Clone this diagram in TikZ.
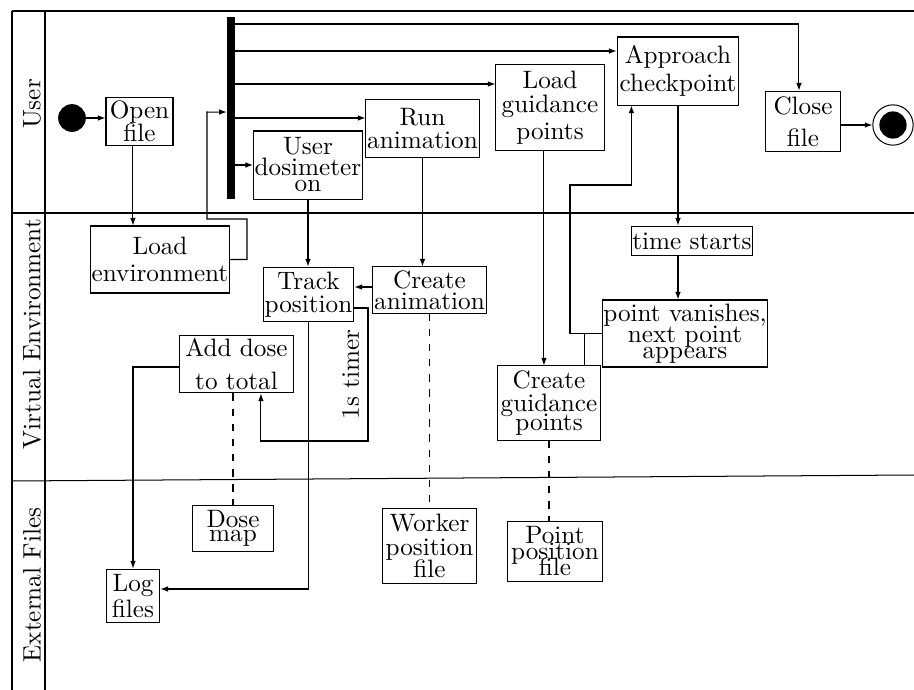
\documentclass[tikz,border=0pt]{standalone}
\usetikzlibrary{arrows.meta}

\begin{document}
\begin{tikzpicture}[
    x=0.397pt, y=-0.397pt,
    action/.style={rectangle, draw, align=center, inner xsep=0.5pt, inner ysep=1pt},
    datafile/.style={action},
    startdot/.style={circle, fill, minimum size=11pt, inner sep=0pt},
    enddot/.style={circle, draw, minimum size=16pt, inner sep=0pt,
        path picture={\fill (path picture bounding box.center) circle (5.4pt);}},
    forkbar/.style={rectangle, fill, minimum width=3pt, minimum height=72.3pt, inner sep=0pt},
    lane/.style={rotate=90},
    arrow/.style={-{Latex[length=3pt,width=2.2pt]}},
    dataflow/.style={dashed}
]
    \useasboundingbox (0,0) rectangle (914,690);

    \draw (12,11) -- (914,11);
    \draw (12,213) -- (914,213);
    \draw (12,481) -- (914,475);
    \draw (12,11) -- (12,690);
    \draw (45,11) -- (45,690);

    \node[lane] (userlane) at (32,104) {User};
    \node[lane] (virtlane) at (32,334) {Virtual Environment};
    \node[lane] (extlane) at (32,585) {External Files};

    \node[startdot] (start) at (72,118) {};
    \node[action, minimum width=26.6pt, minimum height=18.7pt] (openfile) at (139.5,121.5) {Open\\[-3pt]file};
    \node[forkbar] (fork) at (231,108) {};
    \node[action, minimum width=54pt, minimum height=26.6pt] (loadenv) at (160,259.5) {Load\\[-1.3pt]environment};
    \node[action, minimum width=42.9pt, minimum height=27pt] (userdos) at (308,165) {User\\[-3.7pt]dosimeter\\[-5.6pt]on};
    \node[action, minimum width=43.3pt, minimum height=23.4pt] (runanim) at (422.5,128.5) {Run\\[-2.5pt]animation};
    \node[action, minimum width=42.9pt, minimum height=34.5pt] (loadguid) at (550,107.5) {Load\\[-2.5pt]guidance\\[-1.3pt]points};
    \node[action, minimum width=48.4pt, minimum height=27pt] (approach) at (678,71) {Approach\\[-1pt]checkpoint};
    \node[action, minimum width=29.4pt, minimum height=24.2pt] (closefile) at (803,121.5) {Close\\[0.7pt]file};
    \node[enddot] (finish) at (893,125) {};

    \node[action, minimum width=36.1pt, minimum height=21.8pt] (track) at (308.5,294.5) {Track\\[-2.9pt]position};
    \node[action, minimum width=42.5pt, minimum height=18.3pt] (createanim) at (429.5,290) {Create\\[-3.7pt]animation};
    \node[action, minimum width=44.9pt, minimum height=23pt] (adddose) at (236.5,364) {Add dose\\[1.1pt]to total};
    \node[action, minimum width=48.4pt, minimum height=11.9pt] (timestart) at (692,241) {time starts};
    \node[action, minimum width=64.3pt, minimum height=26.6pt] (vanish) at (685,333.5) {point vanishes,\\[-3.7pt]next point\\[-5.6pt]appears};
    \node[action, minimum width=40.5pt, minimum height=29.4pt] (createguid) at (549,403) {Create\\[-2.9pt]guidance\\[-4.5pt]points};

    \node[datafile, minimum width=31.8pt, minimum height=17.9pt] (dosemap) at (233,528.5) {Dose\\[-6.4pt]map};
    \node[datafile, minimum width=37.7pt, minimum height=29.4pt] (workerfile) at (429.5,546) {Worker\\[-2.5pt]position\\[-3.3pt]file};
    \node[datafile, minimum width=38.1pt, minimum height=24.2pt] (pointfile) at (555,551.5) {Point\\[-6pt]position\\[-5.3pt]file};
    \node[datafile, minimum width=21.4pt, minimum height=21.4pt] (logfiles) at (133,596) {Log\\[-1.7pt]files};

    \draw[arrow] (start) -- (start -| openfile.west);
    \draw[arrow] ([xshift=-2.6pt]openfile.south) -- ([xshift=-2.6pt]openfile.south |- loadenv.north);
    \draw[arrow] (loadenv.east) -| (247,219) -| (207,112) -- ([yshift=-1.6pt]fork.west);

    \draw[arrow] (fork.east |- 0,24) -| ([xshift=-1.6pt]closefile.north);
    \draw[arrow] (fork.east |- 0,51) -- (approach.west |- 0,51);
    \draw[arrow] (fork.east |- 0,84) -- (loadguid.west |- 0,84);
    \draw[arrow] (fork.east |- 0,118) -- (runanim.west |- 0,118);
    \draw[arrow] (fork.east |- userdos) -- (userdos.west);
    \draw[arrow] (closefile.east |- finish) -- (finish);

    \draw[arrow] (userdos.south) -- (userdos.south |- track.north);
    \draw[arrow] (runanim.south) -- (runanim.south |- createanim.north);
    \draw[arrow] (createanim.west |- 0,287) -- (track.east |- 0,287);
    \draw[arrow] (track.east |- 0,308) -| (368,441) node[pos=0.75, rotate=90, above] (timer) {1s timer}
        -| ([xshift=9.7pt]adddose.south);
    \draw[arrow] (adddose.west |- 0,367) -| (logfiles.north);
    \draw[arrow] (track.south) |- (logfiles.east |- 0,589);

    \draw[arrow] ([xshift=-2.4pt]loadguid.south) -- ([xshift=-2.4pt]loadguid.south |- createguid.north);
    \draw[arrow] (approach.south) -- (approach.south |- timestart.north);
    \draw[arrow] (approach.south |- timestart.south) -- (approach.south |- vanish.north);
    \draw[arrow] (vanish.west) -| (570,185) -| ([xshift=-18.5pt]approach.south);
    \draw ([xshift=13.9pt]createguid.north) |- (vanish.west);

    \draw[dataflow] (dosemap.north |- adddose.south) -- (dosemap.north);
    \draw[dataflow] (createanim.south) -- (workerfile.north);
    \draw[dataflow] (createguid.south) -- (createguid.south |- pointfile.north);
\end{tikzpicture}
\end{document}
